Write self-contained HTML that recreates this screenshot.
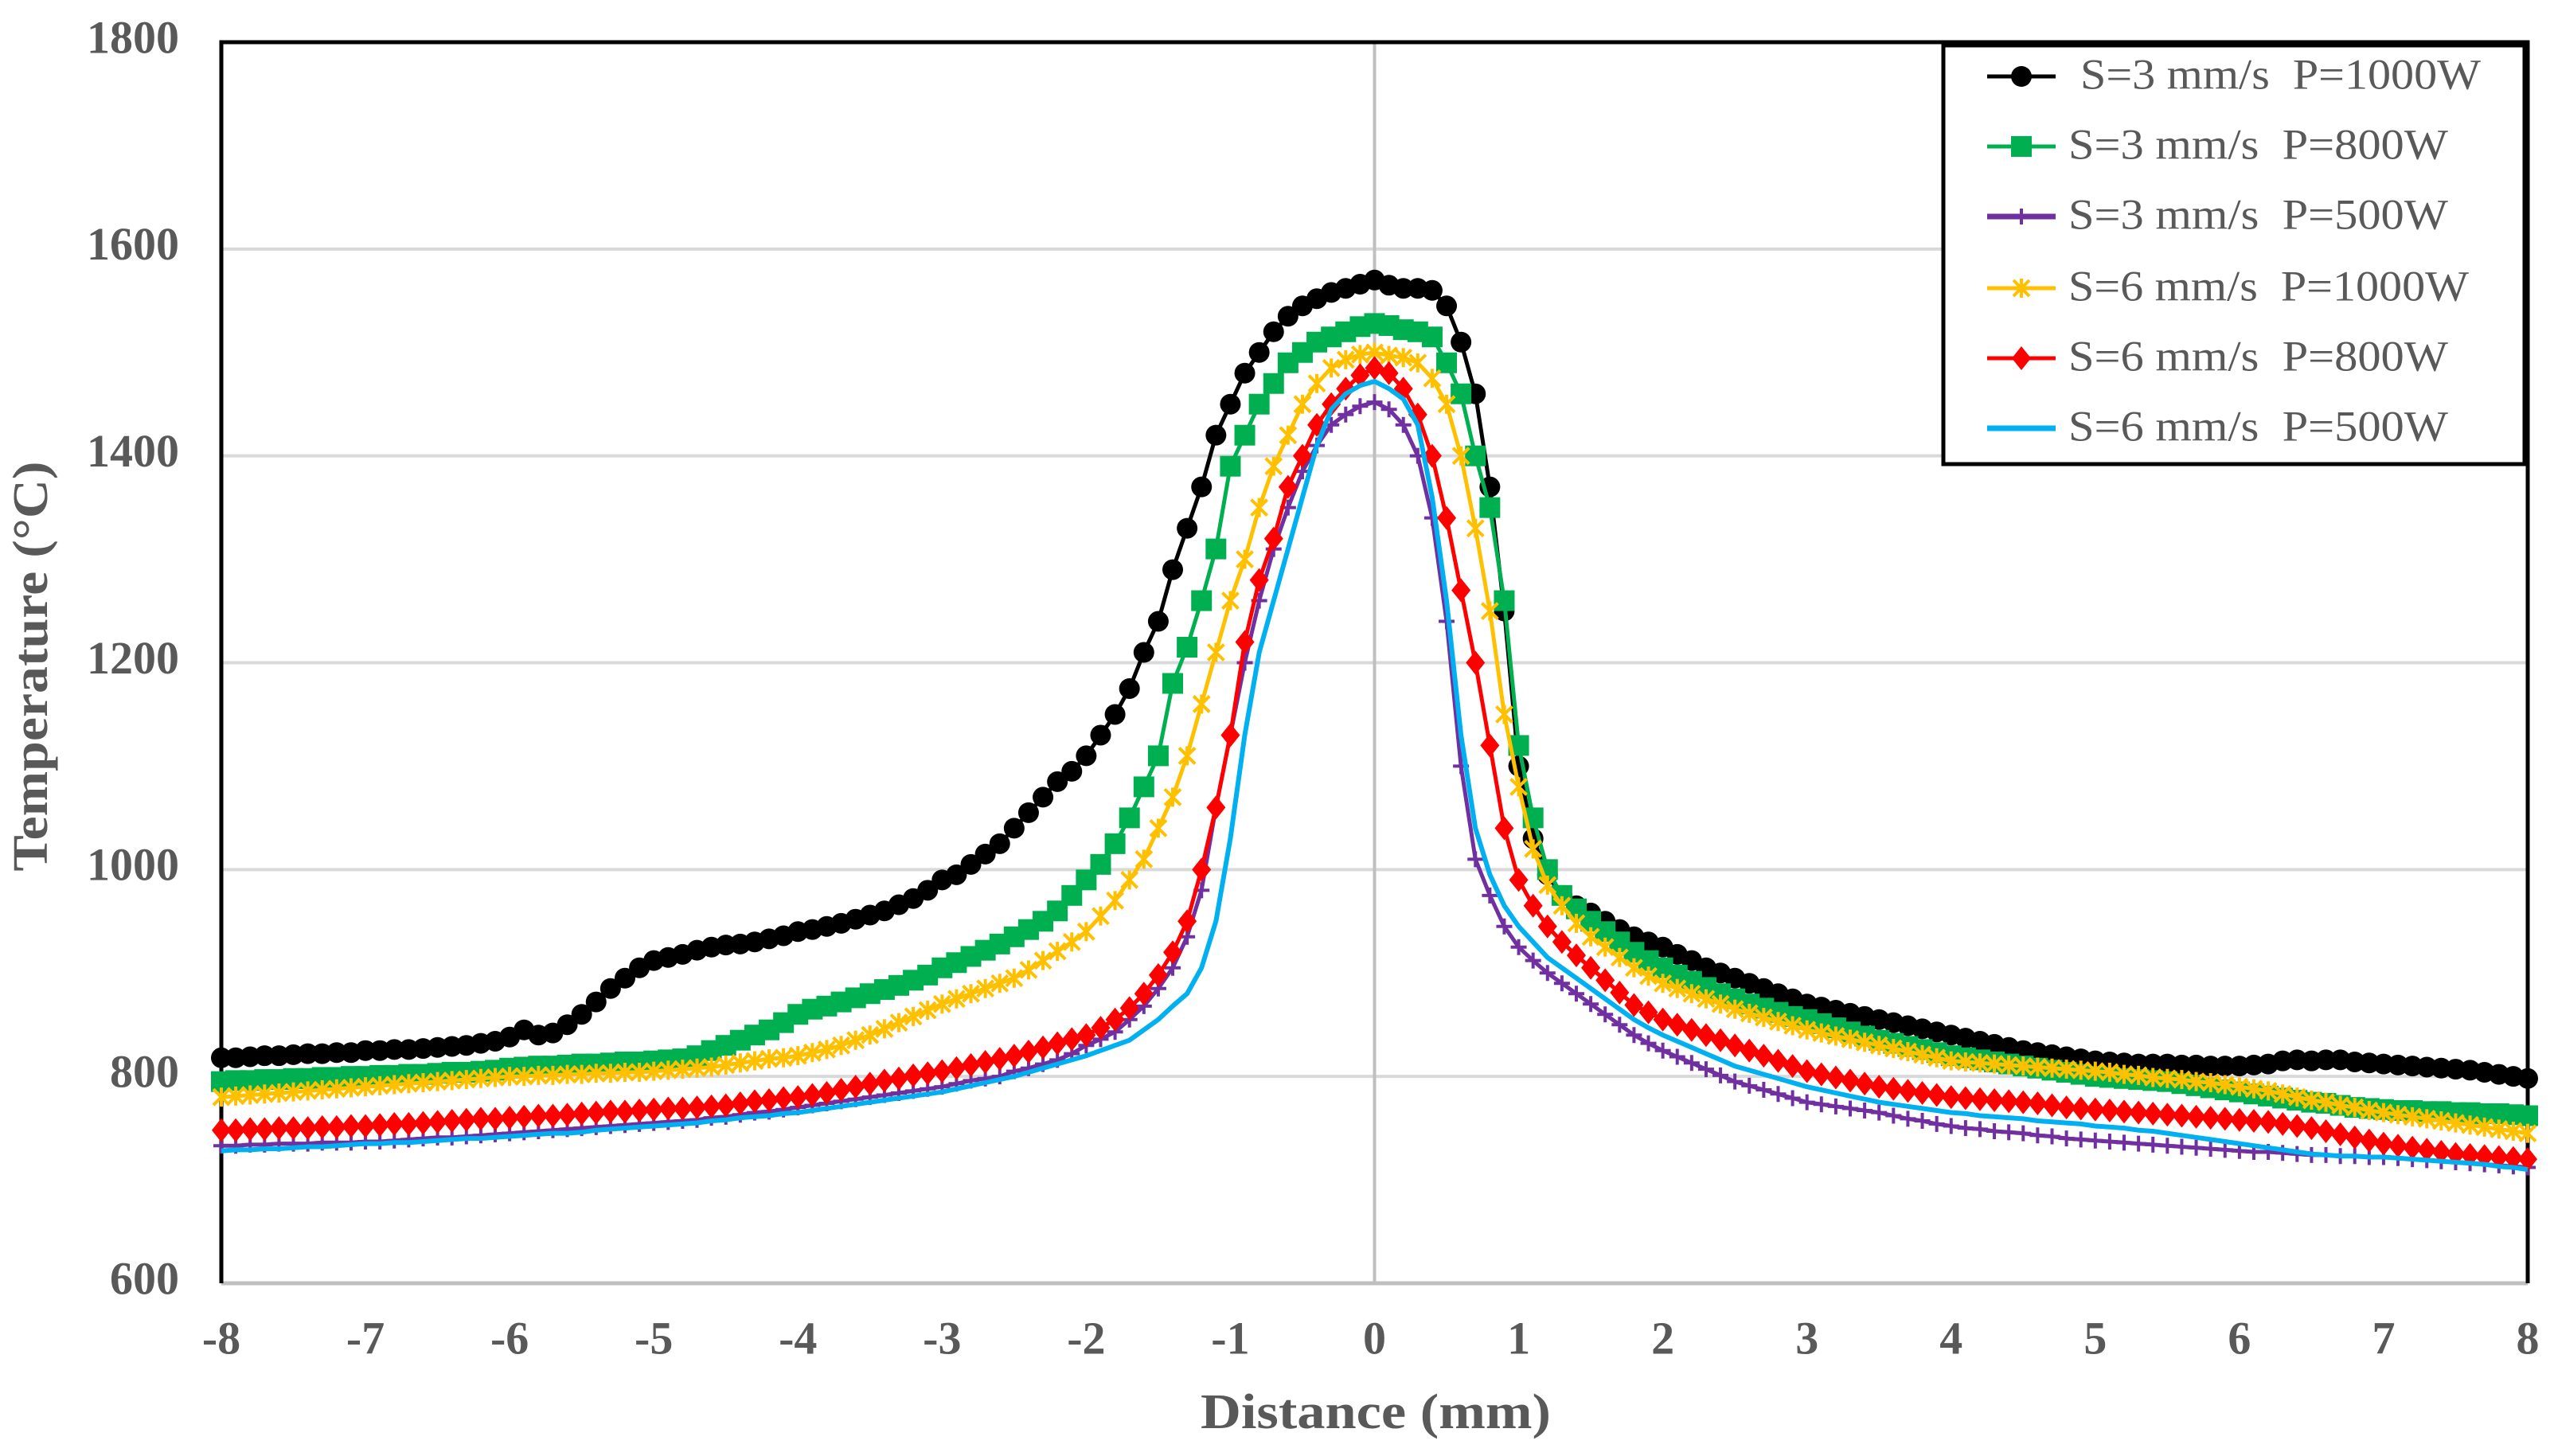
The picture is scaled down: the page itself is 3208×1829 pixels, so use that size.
<!DOCTYPE html>
<html><head><meta charset="utf-8"><style>
html,body{margin:0;padding:0;background:#fff;}
svg{display:block;}
text{font-family:"Liberation Serif",serif;fill:#595959;white-space:pre;}
</style></head><body>
<svg id="chart" width="3208" height="1829" viewBox="0 0 3208 1829" xmlns="http://www.w3.org/2000/svg">
<g id="grid"></g>
<g id="axes"></g>
<g id="series"></g>
<g id="labels"></g>
<text x="1728" y="1780" text-anchor="middle" dominant-baseline="middle" font-size="62" font-weight="bold" textLength="440" lengthAdjust="spacingAndGlyphs">Distance (mm)</text>
<text transform="translate(45,837) rotate(-90)" text-anchor="middle" dominant-baseline="middle" font-size="62" font-weight="bold" textLength="515" lengthAdjust="spacingAndGlyphs">Temperature (°C)</text>
<g id="legend"></g>
</svg>
<script>
const xTicks = [-8,-7,-6,-5,-4,-3,-2,-1,0,1,2,3,4,5,6,7,8];
const yTicks = [600,800,1000,1200,1400,1600,1800];
const seriesNames = ["S=3 mm/s  P=1000W","S=3 mm/s  P=800W","S=3 mm/s  P=500W","S=6 mm/s  P=1000W","S=6 mm/s  P=800W","S=6 mm/s  P=500W"];
const distance = [];
for (let i = 0; i <= 160; i++) distance.push(Math.round((-8 + i * 0.1) * 10) / 10);
const s3p1000 = [818,818,819,820,820,821,822,822,823,823,
825,825,826,826,827,828,829,830,832,834,
838,845,840,842,850,860,872,885,895,905,
912,915,918,922,925,927,928,930,933,936,
940,942,945,948,952,956,960,966,972,980,
990,995,1005,1015,1025,1040,1055,1070,1085,1095,
1110,1130,1150,1175,1210,1240,1290,1330,1370,1420,
1450,1480,1500,1520,1535,1545,1552,1558,1562,1566,
1570,1565,1562,1562,1560,1545,1510,1460,1370,1250,
1100,1030,995,975,965,958,950,942,935,930,
925,918,912,905,900,895,890,885,880,875,
870,867,864,861,858,855,852,849,846,843,
840,837,834,831,828,825,823,821,819,817,
815,814,813,812,812,812,811,811,810,810,
810,811,812,815,816,815,816,816,814,813,
812,811,810,809,808,807,806,804,802,800,798];
const s3p800 = [795,796,796,797,797,798,798,799,799,800,
800,801,801,802,802,803,804,804,805,806,
808,809,810,810,811,812,812,813,814,814,
815,816,817,820,825,830,835,840,845,852,
860,865,868,872,876,880,884,888,893,898,
905,910,916,922,928,935,942,950,960,975,
990,1005,1025,1050,1080,1110,1180,1215,1260,1310,
1390,1420,1450,1470,1490,1500,1510,1515,1520,1525,
1528,1526,1522,1520,1515,1490,1460,1400,1350,1260,
1120,1050,1000,975,962,950,940,930,920,912,
905,898,892,886,880,875,870,866,862,858,
855,851,847,843,839,835,832,829,826,823,
820,818,816,814,812,810,808,806,804,802,
800,799,798,797,796,795,793,791,789,787,
785,783,781,779,777,775,774,772,770,769,
768,767,767,766,766,765,765,764,764,763,762];
const s3p500 = [733,733,734,734,735,735,735,736,736,736,
737,737,738,739,740,741,741,742,743,744,
745,746,747,748,749,750,751,752,753,754,
755,756,757,758,760,761,763,765,766,768,
770,772,774,776,778,780,782,784,786,788,
790,793,796,798,800,805,808,812,816,822,
830,836,843,855,868,885,905,935,980,1060,
1130,1200,1260,1310,1350,1385,1410,1430,1440,1448,
1452,1445,1430,1400,1340,1240,1100,1010,975,945,
925,912,900,890,880,870,860,850,840,832,
825,819,813,807,801,795,791,787,783,779,
775,773,771,769,767,765,762,759,757,754,
752,750,749,747,746,745,743,742,740,739,
738,737,736,735,734,733,732,731,730,729,
728,727,727,726,725,724,724,723,723,722,
722,721,720,719,718,717,716,715,714,713,712];
const s6p1000 = [780,781,782,783,784,785,786,787,788,789,
790,791,792,793,794,795,796,797,798,799,
800,800,801,801,802,802,803,803,804,804,
805,806,807,808,809,811,813,815,817,818,
820,823,826,830,835,840,846,852,858,864,
870,875,880,885,890,895,903,912,921,930,
940,955,970,990,1010,1040,1070,1110,1160,1210,
1260,1300,1350,1390,1420,1450,1470,1485,1493,1498,
1500,1497,1495,1490,1475,1450,1400,1330,1250,1150,
1080,1020,985,965,948,935,925,915,905,897,
890,885,880,875,870,865,861,857,853,849,
845,842,839,836,833,830,827,824,821,818,
815,814,813,812,811,810,809,808,807,806,
805,804,802,801,799,798,797,795,794,792,
790,788,786,783,780,777,775,772,770,767,
765,763,761,759,757,755,753,751,749,747,745];
const s6p800 = [748,748,749,749,750,750,750,751,751,752,
752,753,754,754,755,756,757,758,759,759,
760,761,762,762,763,764,765,766,766,767,
768,769,769,770,771,772,774,776,777,779,
780,782,784,787,790,793,796,798,801,803,
805,808,811,814,817,820,824,828,832,836,
840,847,855,866,880,898,920,950,1000,1060,
1130,1220,1280,1320,1370,1400,1430,1450,1465,1478,
1485,1480,1465,1440,1400,1340,1270,1200,1120,1040,
990,965,945,930,917,905,893,881,869,862,
855,850,845,840,835,830,825,820,815,810,
805,802,799,796,793,790,788,786,784,782,
780,779,778,777,776,775,774,772,770,769,
768,767,766,765,764,763,762,761,760,759,
758,757,756,754,752,750,747,744,741,738,
735,733,731,729,727,725,724,723,722,721,720];
const s6p500 = [728,729,729,730,730,731,732,732,733,734,
735,735,736,736,737,738,739,740,740,741,
742,743,744,745,745,746,748,749,750,751,
752,753,754,755,757,758,760,761,762,764,
765,767,769,771,773,775,777,779,781,783,
785,788,791,794,797,800,804,808,812,816,
820,825,830,835,845,855,868,880,905,950,
1030,1130,1210,1260,1310,1360,1410,1445,1460,1468,
1472,1465,1455,1430,1360,1260,1130,1040,995,965,
945,930,915,905,895,885,875,865,855,847,
840,834,828,822,816,810,806,802,798,794,
790,787,784,781,778,775,773,771,769,767,
765,764,762,761,760,759,757,756,755,754,
752,751,750,748,747,745,743,741,739,737,
735,733,731,729,727,725,724,723,723,722,
722,721,720,719,718,717,716,715,713,712,710];

const NS = "http://www.w3.org/2000/svg";
const L = 278, R = 3175, T = 53, B = 1612;
const xScale = v => L + (v + 8) / 16 * (R - L);
const yScale = v => B - (v - 600) / 1200 * (B - T);
function mk(tag, attrs, parent) {
  const e = document.createElementNS(NS, tag);
  for (const k in attrs) e.setAttribute(k, attrs[k]);
  parent.appendChild(e);
  return e;
}
const grid = document.getElementById('grid');
yTicks.forEach(v => {
  if (v === 600) return;
  const ln = mk('line', {x1: L, x2: R, y1: yScale(v), y2: yScale(v), stroke: '#d9d9d9', 'stroke-width': 4}, grid);
  
  
});
const zl = mk('line', {x1: xScale(0), x2: xScale(0), y1: T, y2: B, stroke: '#bfbfbf', 'stroke-width': 4}, grid);



const axes = document.getElementById('axes');
const ax1 = mk('line', {x1: L, x2: R, y1: B, y2: B, stroke: '#bfbfbf', 'stroke-width': 5}, axes);


const ax2 = mk('polyline', {points: `${L},${B} ${L},${T} ${R},${T} ${R},${B}`, fill: 'none', stroke: '#000', 'stroke-width': 5}, axes);



const labels = document.getElementById('labels');
yTicks.forEach(v => {
  const t = mk('text', {x: 225, y: yScale(v), 'text-anchor': 'end', 'dominant-baseline': 'middle', 'font-size': 58, 'font-weight': 'bold'}, labels);
  t.textContent = v;
  
  
});
xTicks.forEach(v => {
  const t = mk('text', {x: xScale(v), y: 1687, 'text-anchor': 'middle', 'dominant-baseline': 'middle', 'font-size': 58, 'font-weight': 'bold'}, labels);
  t.textContent = v;
  
  
});

const colors = ['#000000', '#00B050', '#7030A0', '#FFC000', '#FF0000', '#00B0F0'];
const markers = ['circle', 'square', 'plus', 'star', 'diamond', 'none'];
const allSeries = [s3p1000, s3p800, s3p500, s6p1000, s6p800, s6p500];
function marker(type, cx, cy, color, g) {
  let e = null;
  if (type === 'circle') e = mk('circle', {cx, cy, r: 13, fill: color}, g);
  else if (type === 'square') e = mk('rect', {x: cx - 13, y: cy - 13, width: 26, height: 26, fill: color}, g);
  else if (type === 'diamond') e = mk('path', {d: `M${cx},${cy - 15}L${cx + 12},${cy}L${cx},${cy + 15}L${cx - 12},${cy}Z`, fill: color}, g);
  else if (type === 'plus') e = mk('path', {d: `M${cx - 10},${cy}H${cx + 10}M${cx},${cy - 10}V${cy + 10}`, stroke: color, 'stroke-width': 4, fill: 'none'}, g);
  else if (type === 'star') e = mk('path', {d: `M${cx - 10},${cy - 10}L${cx + 10},${cy + 10}M${cx + 10},${cy - 10}L${cx - 10},${cy + 10}M${cx},${cy - 12}V${cy + 12}`, stroke: color, 'stroke-width': 4, fill: 'none'}, g);
  return e;
}
const sg = document.getElementById('series');
allSeries.forEach((vals, si) => {
  const g = mk('g', {}, sg);
  
  
  const pts = vals.map((v, i) => xScale(distance[i]).toFixed(1) + ',' + yScale(v).toFixed(1)).join(' ');
  const pl = mk('polyline', {points: pts, fill: 'none', stroke: colors[si], 'stroke-width': si === 5 ? 6 : 5, 'stroke-linejoin': 'round'}, g);
  
  
  vals.forEach((v, i) => {
    const m = marker(markers[si], xScale(distance[i]), yScale(v), colors[si], g);
    if (m) {
      
      
    }
  });
});

const lg = document.getElementById('legend');
const box = mk('rect', {x: 2441, y: 57, width: 730, height: 526, fill: '#fff', stroke: '#000', 'stroke-width': 5}, lg);


const rowY = [96, 184, 272, 362, 450, 538];
const textW = [503, 477, 477, 503, 477, 477];
seriesNames.forEach((name, si) => {
  const g = mk('g', {}, lg);
  
  
  const y = rowY[si];
  const ln = mk('line', {x1: 2496, x2: 2582, y1: y, y2: y, stroke: colors[si], 'stroke-width': si === 2 || si === 5 ? 7 : 5}, g);
  
  
  const m = marker(markers[si], 2539, y, colors[si], g);
  if (m) {
    
    
  }
  const t = mk('text', {x: si === 0 ? 2613 : 2598, y: y + 3, 'dominant-baseline': 'middle', 'font-size': 54, textLength: textW[si], lengthAdjust: 'spacingAndGlyphs'}, g);
  t.textContent = name;
  
  
});
</script>
</body></html>
